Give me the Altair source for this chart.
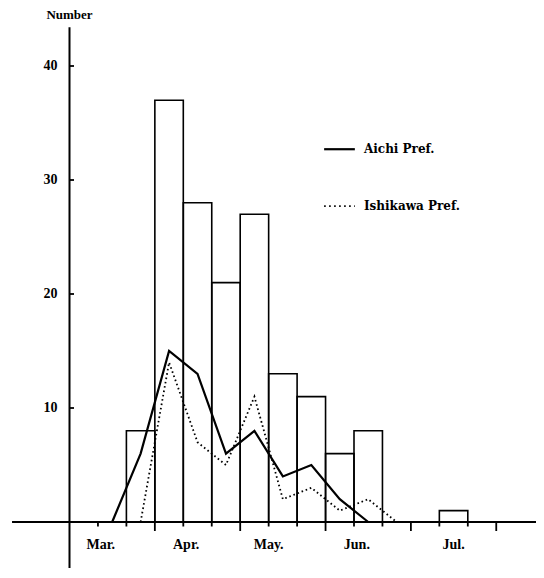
import altair as alt
import pandas as pd

# ---- data (x in ten-day periods from 1 March) ----
bar_start = [2, 3, 4, 5, 6, 7, 8, 9, 10, 13]
bar_count = [8, 37, 28, 21, 27, 13, 11, 6, 8, 1]

aichi_x = [1.5, 2.5, 3.5, 4.5, 5.5, 6.5, 7.5, 8.5, 9.5, 10.5]
aichi = [0, 6, 15, 13, 6, 8, 4, 5, 2, 0]

ishikawa_x = [2.5, 3.5, 4.5, 5.5, 6.5, 7.5, 8.5, 9.5, 10.5, 11.5]
ishikawa = [0, 14, 7, 5, 11, 2, 3, 1, 2, 0]

y_ticks = [10, 20, 30, 40]
x_ticks = list(range(1, 16))
x_long_ticks = [3, 6, 9, 12, 15]
months = ["Mar.", "Apr.", "May.", "Jun.", "Jul."]
month_pos = [1.1, 4.1, 7.0, 10.1, 13.5]
legend_names = ["Aichi Pref.", "Ishikawa Pref."]
legend_y = [32.7, 27.7]

# ---- layout ----
W, H = 528, 560
ORIGIN_X = 61.5      # svg px of x=0
PX_PER_X = 28.45
ZERO_Y = 514.0       # svg px of y=0
PX_PER_Y = 11.4
xmin = -ORIGIN_X / PX_PER_X
xmax = (W - ORIGIN_X) / PX_PER_X
ymax = ZERO_Y / PX_PER_Y
ymin = -(H - ZERO_Y) / PX_PER_Y

FONT = "Liberation Serif"
LEG_FONT = "DejaVu Serif"
xs = alt.Scale(domain=[xmin, xmax], nice=False, zero=False)
ys = alt.Scale(domain=[ymin, ymax], nice=False, zero=False)

def X(f):
    return alt.X(f, type="quantitative", scale=xs, axis=None)

def Y(f):
    return alt.Y(f, type="quantitative", scale=ys, axis=None)

bars_df = pd.DataFrame({"s": bar_start, "e": [b + 1 for b in bar_start], "n": bar_count})
bars = alt.Chart(bars_df).mark_rect(fillOpacity=0, stroke="black", strokeWidth=1.6).encode(
    x=X("s"), x2="e", y=Y("z"), y2="n"
).transform_calculate(z="0")

aichi_df = pd.DataFrame({"x": aichi_x, "v": aichi})
aichi_line = alt.Chart(aichi_df).mark_line(color="black", strokeWidth=2.2).encode(
    x=X("x"), y=Y("v")
)
ish_df = pd.DataFrame({"x": ishikawa_x, "v": ishikawa})
ish_line = alt.Chart(ish_df).mark_line(
    color="black", strokeWidth=1.8, strokeDash=[1.6, 2.8]
).encode(x=X("x"), y=Y("v"))

# axis lines
axes_df = pd.DataFrame({
    "x0": [-2.02, 0], "x1": [16.42, 0],
    "y0": [0, ymin], "y1": [0, 43.4],
})
axes = alt.Chart(axes_df).mark_rule(color="black", strokeWidth=2).encode(
    x=X("x0"), x2="x1", y=Y("y0"), y2="y1"
)

# x ticks (below the axis)
xt_df = pd.DataFrame({
    "x": x_ticks,
    "y1": [-(9 if t in x_long_ticks else 4.5) / PX_PER_Y for t in x_ticks],
})
xt = alt.Chart(xt_df).mark_rule(color="black", strokeWidth=1.8).encode(
    x=X("x"), y=Y("z"), y2="y1"
).transform_calculate(z="0")

# y ticks (inside)
yt_df = pd.DataFrame({"v": y_ticks, "x1": [4.5 / PX_PER_X] * len(y_ticks)})
yt = alt.Chart(yt_df).mark_rule(color="black", strokeWidth=1.8).encode(
    x=X("z"), x2="x1", y=Y("v")
).transform_calculate(z="0")

yl_df = pd.DataFrame({"v": y_ticks, "t": [str(v) for v in y_ticks]})
yl = alt.Chart(yl_df).mark_text(
    font=FONT, fontSize=14, fontWeight="bold", align="right", baseline="middle", dx=-12
).encode(x=X("z"), y=Y("v"), text="t:N").transform_calculate(z="0")

ml_df = pd.DataFrame({"x": month_pos, "t": months})
ml = alt.Chart(ml_df).mark_text(
    font=FONT, fontSize=14, fontWeight="bold", align="center", baseline="middle", dy=23
).encode(x=X("x"), y=Y("z"), text="t:N").transform_calculate(z="0")

title_df = pd.DataFrame({"x": [0], "t": ["Number"]})
title = alt.Chart(title_df).mark_text(
    font=FONT, fontSize=13, fontWeight="bold", align="center", baseline="top", dy=1
).encode(x=X("x"), y=alt.value(0), text="t:N")

# legend
lg_df = pd.DataFrame({"v": legend_y, "t": legend_names, "x0": [8.95] * 2, "x1": [10.03] * 2, "xt": [10.35] * 2})
lg_solid = alt.Chart(lg_df.iloc[[0]]).mark_rule(color="black", strokeWidth=2.2).encode(
    x=X("x0"), x2="x1", y=Y("v")
)
lg_dot = alt.Chart(lg_df.iloc[[1]]).mark_rule(
    color="black", strokeWidth=1.8, strokeDash=[1.6, 3.4]
).encode(x=X("x0"), x2="x1", y=Y("v"))
lg_text = alt.Chart(lg_df).mark_text(
    font=LEG_FONT, fontSize=12, fontWeight="bold", align="left", baseline="middle"
).encode(x=X("xt"), y=Y("v"), text="t:N")

chart = alt.layer(
    bars, aichi_line, ish_line, axes, xt, yt, yl, ml, title, lg_solid, lg_dot, lg_text
).properties(
    width=W, height=H,
    autosize=alt.AutoSizeParams(type="none"),
    padding=0,
    background="white",
).configure_view(stroke=None)

chart.save("out.html", embed_options={"renderer": "svg", "actions": False})
